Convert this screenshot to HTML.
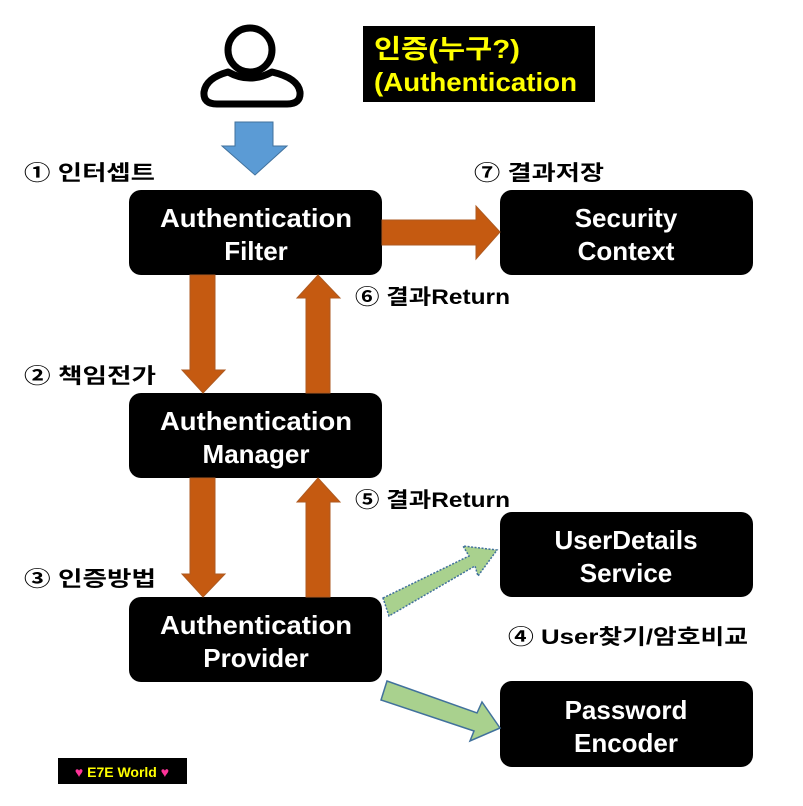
<!DOCTYPE html>
<html><head><meta charset="utf-8"><style>
body{margin:0;background:#fff;width:803px;height:801px;overflow:hidden}
svg text{font-family:"Liberation Sans","Noto Sans CJK KR",sans-serif;font-weight:bold}
</style></head><body>
<svg width="803" height="801" viewBox="0 0 803 801">
<!-- person -->
<circle cx="250" cy="50" r="22" fill="none" stroke="#000" stroke-width="7"/>
<path d="M217 104 Q203 104 204 92 Q206 78 228 72 Q250 84 272 72 Q298 78 300 92 Q301 104 287 104 Z" fill="none" stroke="#000" stroke-width="7" stroke-linejoin="round"/>
<!-- title -->
<rect x="363" y="26" width="232" height="76" fill="#000"/>
<text x="374" y="58" fill="#ffff00" font-size="26" textLength="146" lengthAdjust="spacingAndGlyphs">인증(누구?)</text>
<text x="374" y="91" fill="#ffff00" font-size="26" textLength="203" lengthAdjust="spacingAndGlyphs">(Authentication</text>
<!-- blue arrow -->
<path d="M235 122 H273 V146 H287 L255 175 L222 146 H235 Z" fill="#5b9bd5" stroke="#41719c" stroke-width="1"/>
<!-- boxes -->
<g fill="#000">
<rect x="129" y="190" width="253" height="85" rx="12"/>
<rect x="129" y="393" width="253" height="85" rx="12"/>
<rect x="129" y="597" width="253" height="85" rx="12"/>
<rect x="500" y="190" width="253" height="85" rx="12"/>
<rect x="500" y="512" width="253" height="85" rx="12"/>
<rect x="500" y="681" width="253" height="86" rx="12"/>
</g>
<g fill="#fff" font-size="26" text-anchor="middle">
<text x="256" y="227" textLength="192" lengthAdjust="spacingAndGlyphs">Authentication</text><text x="256" y="260">Filter</text>
<text x="256" y="430" textLength="192" lengthAdjust="spacingAndGlyphs">Authentication</text><text x="256" y="463">Manager</text>
<text x="256" y="634" textLength="192" lengthAdjust="spacingAndGlyphs">Authentication</text><text x="256" y="667">Provider</text>
<text x="626" y="227">Security</text><text x="626" y="260">Context</text>
<text x="626" y="549">UserDetails</text><text x="626" y="582">Service</text>
<text x="626" y="719">Password</text><text x="626" y="752">Encoder</text>
</g>
<!-- orange arrows -->
<g fill="#c55a11" stroke="#ae5a21" stroke-width="1">
<path d="M382 220 H476 V206 L500 232 L476 259 V245 H382 Z"/>
<path d="M190 275 H215 V370 H225 L203 393 L182 370 H190 Z"/>
<path d="M306 393 H330 V298 H340 L318 275 L297 298 H306 Z"/>
<path d="M190 478 H215 V574 H225 L203 597 L182 574 H190 Z"/>
<path d="M306 597 H330 V502 H340 L318 478 L297 502 H306 Z"/>
</g>
<!-- green arrows -->
<path d="M383 598 L469 556 L463 546 L497 550 L478 576 L475 566 L389 616 Z" fill="#a9d18e" stroke="#41719c" stroke-width="1.5" stroke-dasharray="2,1.5"/>
<path d="M387 681 L477 713 L482 702 L500 728 L470 741 L474 731 L381 700 Z" fill="#a9d18e" stroke="#41719c" stroke-width="1.5"/>
<!-- labels -->
<g fill="#000" font-size="21" lengthAdjust="spacingAndGlyphs">
<text x="24" y="180" textLength="131" lengthAdjust="spacingAndGlyphs">① 인터셉트</text>
<text x="474" y="180" textLength="130" lengthAdjust="spacingAndGlyphs">⑦ 결과저장</text>
<text x="355" y="304" textLength="155" lengthAdjust="spacingAndGlyphs">⑥ 결과Return</text>
<text x="24" y="383" textLength="132" lengthAdjust="spacingAndGlyphs">② 책임전가</text>
<text x="355" y="507" textLength="155" lengthAdjust="spacingAndGlyphs">⑤ 결과Return</text>
<text x="24" y="586" textLength="132" lengthAdjust="spacingAndGlyphs">③ 인증방법</text>
<text x="508" y="644" textLength="240" lengthAdjust="spacingAndGlyphs">④ User찾기/암호비교</text>
</g>
<rect x="58" y="758" width="129" height="26" fill="#000"/>
<text x="122" y="777" fill="#ffff00" font-size="14" text-anchor="middle"><tspan fill="#ff3399">♥</tspan> E7E World <tspan fill="#ff3399">♥</tspan></text>
</svg>
</body></html>
